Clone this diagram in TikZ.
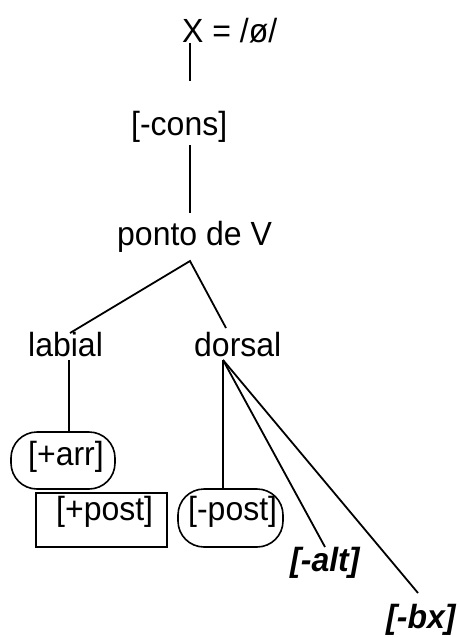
\documentclass[tikz,border=0pt]{standalone}
\usepackage{fontspec}
\setmainfont{Liberation Sans}[FakeStretch=0.955]
\begin{document}
\begin{tikzpicture}[x=1pt,y=-1pt,
  lbl/.style={anchor=base west,inner sep=0pt,font=\fontsize{33.5}{40}\selectfont},
  feat/.style={lbl,font=\fontsize{33.5}{40}\selectfont\bfseries\itshape},
  stadium/.style={draw,line width=1.6pt,inner sep=0pt,rounded corners=26pt},
  frame/.style={draw,line width=1.6pt,inner sep=0pt},
  branch/.style={line width=1.8pt}]
\useasboundingbox (0,0) rectangle (459,637);

% labels of the tree
\node[lbl] (xeq)    at (182,42)  {X = /ø/};
\node[lbl] (cons)   at (131,135) {[-cons]};
\node[lbl] (ponto)  at (117,245) {ponto de V};
\node[lbl] (labial) at (28,356)  {labial};
\node[lbl] (dorsal) at (194,356) {dorsal};

% framed features
\node[stadium,minimum width=104pt,minimum height=57pt] (arrframe) at (63,460.5) {};
\node[frame,minimum width=131pt,minimum height=54pt] (postframe) at (101.5,520) {};
\node[stadium,minimum width=105pt,minimum height=58pt] (negframe) at (230.5,518) {};
\node[lbl] (arr)     at (28,465)  {[+arr]};
\node[lbl] (pluspost) at (56,520) {[+post]};
\node[lbl] (negpost) at (188,520) {[-post]};

% bold italic features
\node[feat] (alt) at (290,571) {[-alt]};
\node[feat] (bx)  at (386,628) {[-bx]};

% attachment points of the branches
\coordinate (xfoot)     at (190,43);
\coordinate (xstem)     at (190,81);
\coordinate (consfoot)  at (190,145);
\coordinate (pontohead) at (190,213);
\coordinate (pontofoot) at (190,261);
\coordinate (labialhead) at (70,333);
\coordinate (dorsalhead) at (226,328);
\coordinate (labialfoot) at (69,360);
\coordinate (arrhead)    at (69,432);
\coordinate (dorsalfoot) at (223,360);
\coordinate (negposthead) at (223,489);
\coordinate (althead)    at (325,547);
\coordinate (bxhead)     at (418,593);

\draw[branch] (xfoot) -- (xstem);
\draw[branch] (consfoot) -- (pontohead);
\draw[branch] (labialhead) -- (pontofoot) -- (dorsalhead);
\draw[branch] (labialfoot) -- (arrhead);
\draw[branch] (dorsalfoot) -- (negposthead);
\draw[branch] (dorsalfoot) -- (althead);
\draw[branch] (dorsalfoot) -- (bxhead);
\end{tikzpicture}
\end{document}
